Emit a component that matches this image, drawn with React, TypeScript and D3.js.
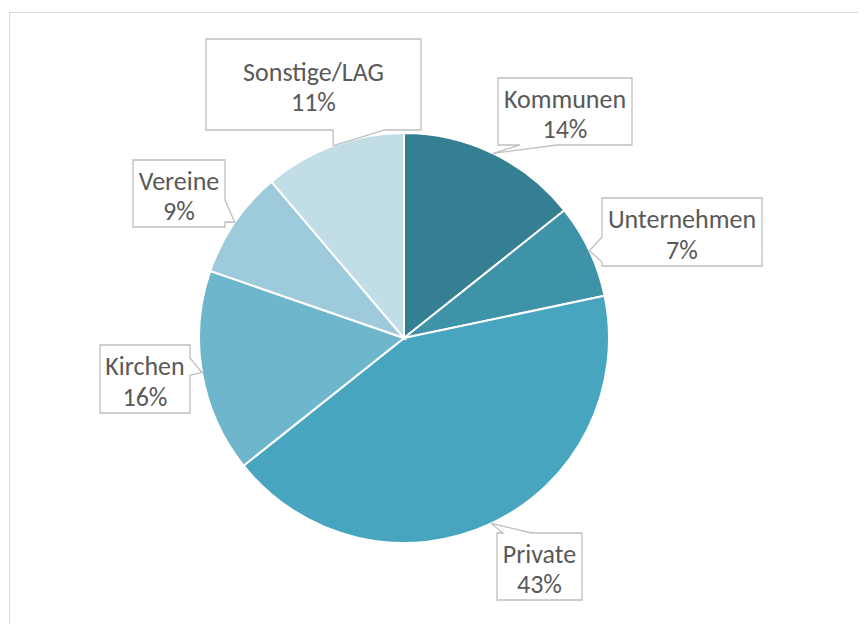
import React from 'react';
import * as d3 from 'd3';

// data (clockwise from 12 o'clock)
const categories = ['Kommunen', 'Unternehmen', 'Private', 'Kirchen', 'Vereine', 'Sonstige/LAG'];
const shares = [14.3, 7.4, 42.6, 16.0, 8.5, 11.2];
const colors = ['#357f92', '#3e93a9', '#47a5bf', '#6db6cc', '#9ecbdb', '#c1dde6'];

// callout boxes: x, y, w, h, side the pointer leaves from, and where along that side
const callouts = [
  { x: 498, y: 78, w: 134, h: 67, side: 'bottom', a: 520, b: 557 },
  { x: 602, y: 198, w: 160, h: 68, side: 'left', a: 237, b: 262 },
  { x: 497, y: 533, w: 85, h: 67, side: 'top', a: 503, b: 532 },
  { x: 100, y: 345, w: 90, h: 68, side: 'right', a: 358, b: 375 },
  { x: 133, y: 160, w: 92, h: 67, side: 'right', a: 200, b: 222 },
  { x: 206, y: 39, w: 215, h: 91, side: 'bottom', a: 333, b: 385 },
];

const cx = 404;
const cy = 338;
const radius = 205;

const calloutPath = (c, tip) => {
  const { x, y, w, h, side, a, b } = c;
  const r = x + w;
  const btm = y + h;
  const t = `${tip[0]},${tip[1]}`;
  let pts;
  if (side === 'bottom') {
    pts = `${x},${y} ${r},${y} ${r},${btm} ${b},${btm} ${t} ${a},${btm} ${x},${btm}`;
  } else if (side === 'top') {
    pts = `${x},${y} ${a},${y} ${t} ${b},${y} ${r},${y} ${r},${btm} ${x},${btm}`;
  } else if (side === 'left') {
    pts = `${x},${y} ${r},${y} ${r},${btm} ${x},${btm} ${x},${b} ${t} ${x},${a}`;
  } else {
    pts = `${x},${y} ${r},${y} ${r},${a} ${t} ${r},${b} ${r},${btm} ${x},${btm}`;
  }
  return pts;
};

export default function App() {
  const pie = d3.pie<number>().sort(null).value(d => d);
  const arcs = pie(shares);
  const arc = d3.arc<d3.PieArcDatum<number>>().innerRadius(0).outerRadius(radius);
  const edge = d3.arc<d3.PieArcDatum<number>>().innerRadius(radius).outerRadius(radius);
  const total = d3.sum(shares);

  return (
    <svg width={850} height={616} style={{ display: 'block', fontFamily: 'Carlito, Calibri, Lato, sans-serif' }}>
      <rect x={1.5} y={4.5} width={900} height={700} fill="#fff" stroke="#d9d9d9" strokeWidth={1} />
      <g transform="translate(-8,-8)">
        <g transform={`translate(${cx},${cy})`}>
          {arcs.map((d, i) => (
            <path key={categories[i]} d={arc(d) || ''} fill={colors[i]} stroke="#fff" strokeWidth={2} />
          ))}
        </g>
        {arcs.map((d, i) => {
          const c = callouts[i];
          const p = edge.centroid(d);
          const tip = [cx + p[0], cy + p[1]];
          const mx = c.x + c.w / 2;
          const my = c.y + c.h / 2;
          return (
            <g key={categories[i]}>
              <polygon points={calloutPath(c, tip)} fill="#fff" stroke="#bfbfbf" strokeWidth={1.3} />
              <text x={mx} y={my - 4} textAnchor="middle" fontSize={26} fill="#595959">
                {categories[i]}
              </text>
              <text x={mx} y={my + 26.5} textAnchor="middle" fontSize={26} fill="#595959">
                {`${Math.round((shares[i] / total) * 100)}%`}
              </text>
            </g>
          );
        })}
      </g>
    </svg>
  );
}
